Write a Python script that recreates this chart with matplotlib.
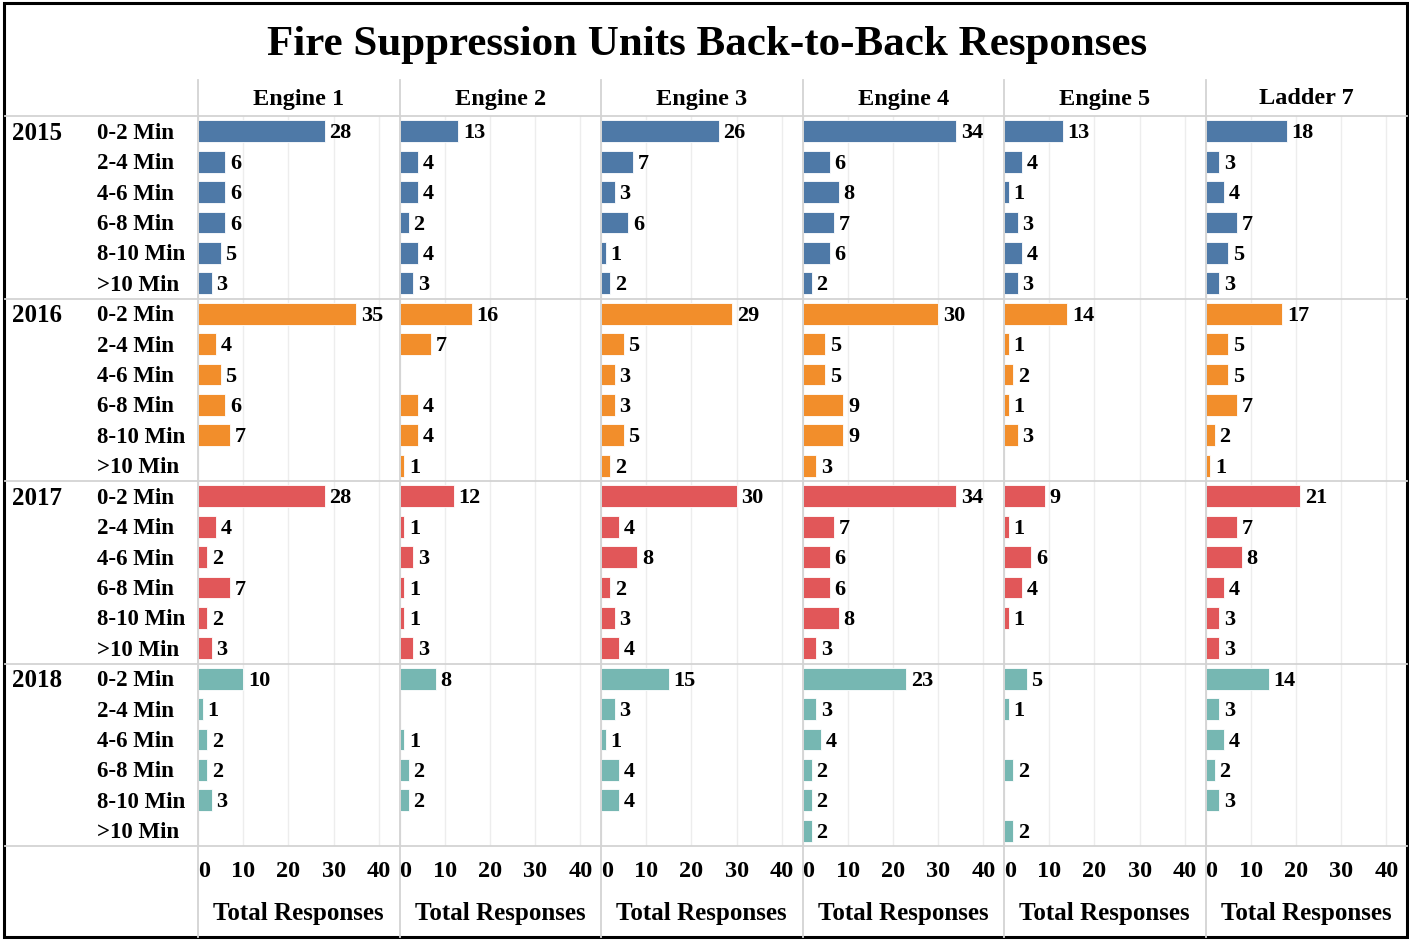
import matplotlib
matplotlib.use("Agg")
import matplotlib.pyplot as plt
from matplotlib.lines import Line2D
from matplotlib.patches import Rectangle

# --- data ---
years = ["2015", "2016", "2017", "2018"]
bins = ["0-2 Min", "2-4 Min", "4-6 Min", "6-8 Min", "8-10 Min", ">10 Min"]
units = ["Engine 1", "Engine 2", "Engine 3", "Engine 4", "Engine 5", "Ladder 7"]
year_colors = ["#4e79a7", "#f28e2b", "#e15759", "#76b7b2"]
ticks = [0, 10, 20, 30, 40]

# responses per unit, 6 bins per year (2015, 2016, 2017, 2018); None = no responses
engine1 = [28, 6, 6, 6, 5, 3,   35, 4, 5, 6, 7, None,   28, 4, 2, 7, 2, 3,   10, 1, 2, 2, 3, None]
engine2 = [13, 4, 4, 2, 4, 3,   16, 7, None, 4, 4, 1,   12, 1, 3, 1, 1, 3,   8, None, 1, 2, 2, None]
engine3 = [26, 7, 3, 6, 1, 2,   29, 5, 3, 3, 5, 2,      30, 4, 8, 2, 3, 4,   15, 3, 1, 4, 4, None]
engine4 = [34, 6, 8, 7, 6, 2,   30, 5, 5, 9, 9, 3,      34, 7, 6, 6, 8, 3,   23, 3, 4, 2, 2, 2]
engine5 = [13, 4, 1, 3, 4, 3,   14, 1, 2, 1, 3, None,   9, 1, 6, 4, 1, None, 5, 1, None, 2, None, 2]
ladder7 = [18, 3, 4, 7, 5, 3,   17, 5, 5, 7, 2, 1,      21, 7, 8, 4, 3, 3,   14, 3, 4, 2, 3, None]
unit_values = [engine1, engine2, engine3, engine4, engine5, ladder7]

# --- layout (pixels) ---
W, H = 1409, 940
FONT = ["Liberation Serif", "DejaVu Serif"]
plt.rcParams["font.family"] = FONT
plt.rcParams["font.weight"] = "bold"

grid_top, grid_bottom = 116, 846
col_left, col_w = 198, 201.5
n_rows = len(years) * len(bins)
row_h = (grid_bottom - grid_top) / n_rows
sep_color = "#d3d3d3"


def fx(px):
    return px / W


def fy(py):
    return 1 - py / H


fig = plt.figure(figsize=(W / 100, H / 100), dpi=100)
fig.patch.set_facecolor("white")

# title
fig.text(fx(707), fy(45), "Fire Suppression Units Back-to-Back Responses",
         ha="center", va="center", fontsize=31, fontweight="bold")

# one axes per unit
for i, (unit, vals) in enumerate(zip(units, unit_values)):
    left = col_left + i * col_w
    ax = fig.add_axes([fx(left), fy(grid_bottom), col_w / W, (grid_bottom - grid_top) / H])
    ax.set_xlim(0, col_w / 4.52)
    ax.set_ylim(n_rows, 0)
    for s in ax.spines.values():
        s.set_visible(False)
    ax.set_yticks([])
    ax.set_xticks(ticks)
    ax.set_xticklabels([str(t) for t in ticks], fontsize=17.5, fontweight="bold")
    ax.xaxis.get_ticklabels()[0].set_horizontalalignment("left")
    ax.tick_params(axis="x", length=0, pad=11)
    ax.grid(axis="x", color="#ededed", lw=1)
    ax.set_axisbelow(True)
    ax.set_xlabel("Total Responses", fontsize=18, fontweight="bold", labelpad=14)

    for k, v in enumerate(vals):
        if v is None:
            continue
        color = year_colors[k // len(bins)]
        ax.barh(k + 0.5, v, height=0.72, color=color, edgecolor="white", lw=0.6)
        ax.annotate(str(v), (v, k + 0.5), xytext=(3.5, -1.5), textcoords="offset points",
                    ha="left", va="center", fontsize=16, fontweight="bold")

    fig.text(fx(left + col_w / 2), fy(99), unit, ha="center", va="center",
             fontsize=17.5, fontweight="bold")

# row labels
for y_i, year in enumerate(years):
    for b_i, b in enumerate(bins):
        k = y_i * len(bins) + b_i
        yc = grid_top + (k + 0.5) * row_h + 2
        fig.text(fx(97), fy(yc), b, ha="left", va="center", fontsize=16.5, fontweight="bold")
    fig.text(fx(12), fy(grid_top + 0.5 * row_h + y_i * 6 * row_h + 2), year,
             ha="left", va="center", fontsize=18, fontweight="bold")

# separator lines
for y_i in range(len(years) + 1):
    yy = grid_top + y_i * 6 * row_h
    fig.add_artist(Line2D([fx(5), fx(1407)], [fy(yy), fy(yy)], color=sep_color, lw=1.3))
for i in range(len(units)):
    xx = col_left + i * col_w
    fig.add_artist(Line2D([fx(xx), fx(xx)], [fy(80), fy(937)], color=sep_color, lw=1.3))

# outer frame
fig.add_artist(Rectangle((fx(4), fy(937)), (1407 - 4) / W, (937 - 3) / H,
                         fill=False, edgecolor="black", lw=2.2, transform=fig.transFigure))

fig.savefig("out.png", dpi=100)
